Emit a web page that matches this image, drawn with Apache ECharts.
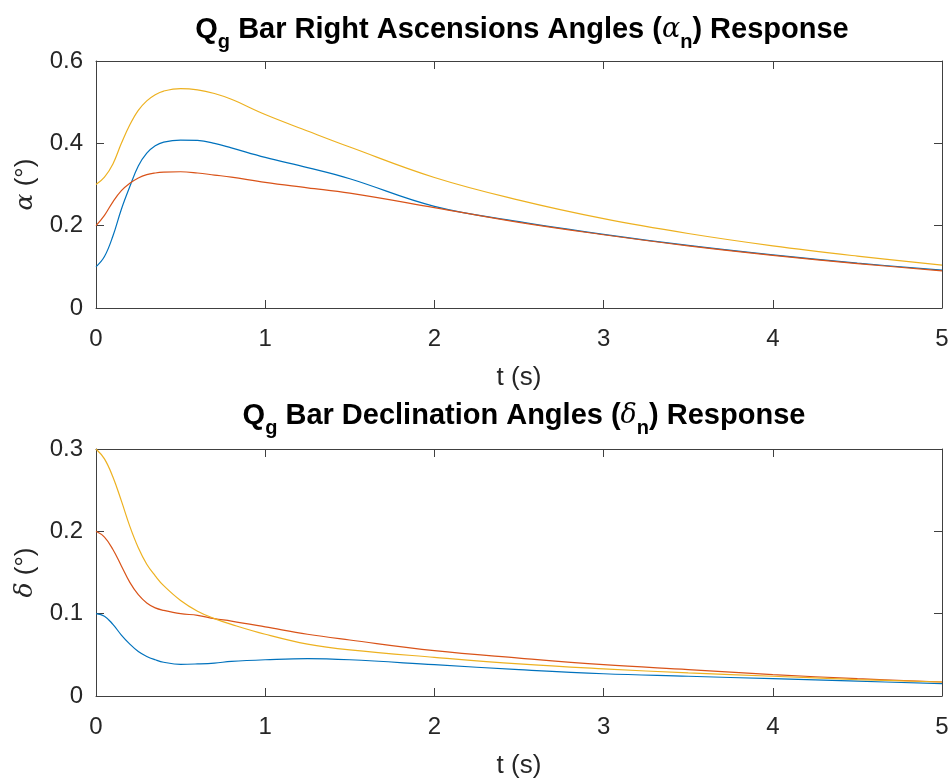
<!DOCTYPE html>
<html>
<head>
<meta charset="utf-8">
<title>Q_g bar response</title>
<script src="https://cdn.jsdelivr.net/npm/echarts@6/dist/echarts.min.js"></script>
<style>
  html, body { margin: 0; padding: 0; background: #fff; }
  #chart { width: 952px; height: 783px; }
</style>
</head>
<body>
<div id="chart"></div>
<script>
// time samples (s)
var tTime = [0, 0.05, 0.1, 0.15, 0.2, 0.25, 0.3, 0.35, 0.4, 0.5, 0.6, 0.7, 0.8, 1.0, 1.25, 1.5, 2, 2.5, 3, 3.5, 4, 4.5, 5];

// right ascension angles alpha (deg)
var alpha1 = [0.100, 0.125, 0.175, 0.240, 0.295, 0.345, 0.376, 0.394, 0.403, 0.408, 0.407, 0.400, 0.389, 0.366, 0.341, 0.314, 0.247, 0.210, 0.179, 0.152, 0.129, 0.109, 0.092];
var alpha2 = [0.200, 0.225, 0.258, 0.285, 0.303, 0.316, 0.324, 0.328, 0.330, 0.331, 0.328, 0.323, 0.318, 0.305, 0.292, 0.279, 0.244, 0.208, 0.178, 0.151, 0.128, 0.108, 0.090];
var alpha3 = [0.300, 0.318, 0.350, 0.400, 0.445, 0.480, 0.503, 0.518, 0.527, 0.533, 0.530, 0.521, 0.507, 0.470, 0.430, 0.391, 0.317, 0.262, 0.217, 0.181, 0.151, 0.126, 0.104];

// declination angles delta (deg)
var delta1 = [0.100, 0.097, 0.087, 0.074, 0.063, 0.054, 0.048, 0.044, 0.041, 0.0385, 0.039, 0.040, 0.042, 0.044, 0.0455, 0.044, 0.038, 0.032, 0.027, 0.024, 0.021, 0.018, 0.015];
var delta2 = [0.200, 0.193, 0.178, 0.158, 0.138, 0.123, 0.113, 0.107, 0.104, 0.100, 0.098, 0.094, 0.091, 0.084, 0.075, 0.068, 0.055, 0.046, 0.038, 0.032, 0.026, 0.021, 0.017];
var delta3 = [0.300, 0.288, 0.266, 0.237, 0.206, 0.180, 0.160, 0.146, 0.134, 0.116, 0.103, 0.094, 0.087, 0.075, 0.063, 0.056, 0.047, 0.039, 0.033, 0.028, 0.024, 0.020, 0.017];

var xTicks = [0, 1, 2, 3, 4, 5];
var alphaTicks = [0, 0.2, 0.4, 0.6];
var deltaTicks = [0, 0.1, 0.2, 0.3];

var colors = ['#0072BD', '#D95319', '#EDB120'];

var chart = echarts.init(document.getElementById('chart'));

function pairs(ys) {
  return tTime.map(function (t, i) { return [t, ys[i]]; });
}

var axisCol = '#404040';
var textCol = '#262626';
var labelFont = 'Liberation Sans';

function xAx(grid, pos, showName) {
  return {
    type: 'value', gridIndex: grid, position: pos,
    min: xTicks[0], max: xTicks[xTicks.length - 1], interval: 1,
    axisLine: { show: true, onZero: false, lineStyle: { color: axisCol, width: 1 } },
    axisTick: { show: true, inside: true, length: 8, lineStyle: { color: axisCol } },
    axisLabel: { show: pos === 'bottom', color: textCol, fontSize: 24, fontFamily: labelFont, margin: 19 },
    splitLine: { show: false },
    name: showName ? 't (s)' : '',
    nameLocation: 'middle', nameGap: 57,
    nameTextStyle: { color: textCol, fontSize: 26, fontFamily: labelFont }
  };
}

function yAx(grid, pos, ticks, sym) {
  return {
    type: 'value', gridIndex: grid, position: pos,
    min: ticks[0], max: ticks[ticks.length - 1], interval: ticks[1] - ticks[0],
    axisLine: { show: true, onZero: false, lineStyle: { color: axisCol, width: 1 } },
    axisTick: { show: true, inside: true, length: 8, lineStyle: { color: axisCol } },
    axisLabel: { show: pos === 'left', color: textCol, fontSize: 24, fontFamily: labelFont, margin: 13 },
    splitLine: { show: false },
    name: pos === 'left' ? '{g|' + sym + '}{r| (°)}' : '',
    nameLocation: 'middle', nameGap: 54, nameRotate: 90,
    nameTextStyle: {
      color: textCol,
      rich: {
        g: { fontFamily: 'DejaVu Serif', fontStyle: 'italic', fontSize: 25, color: textCol },
        r: { fontFamily: labelFont, fontSize: 26, color: textCol }
      }
    }
  };
}

var titleRich = {
  b: { fontFamily: labelFont, fontWeight: 'bold', fontSize: 29, color: '#000' },
  s: { fontFamily: labelFont, fontWeight: 'bold', fontSize: 20, color: '#000', padding: [25, 0, 0, 0] },
  gr: { fontFamily: 'DejaVu Serif', fontStyle: 'italic', fontWeight: 'normal', fontSize: 27, color: '#000' }
};

function line(name, ys, c, xi, yi) {
  return {
    name: name, type: 'line', data: pairs(ys),
    xAxisIndex: xi, yAxisIndex: yi,
    smooth: 0.4, showSymbol: false, symbol: 'none',
    lineStyle: { color: c, width: 1.2 }, itemStyle: { color: c },
    animation: false
  };
}

var option = {
  backgroundColor: '#fff',
  animation: false,
  title: [
    { text: '{b|Q}{s|g}{b| Bar Right Ascensions Angles (}{gr|α}{s|n}{b|) Response}',
      left: 517, textAlign: 'center', top: 2, textStyle: { rich: titleRich } },
    { text: '{b|Q}{s|g}{b| Bar Declination Angles (}{gr|δ}{s|n}{b|) Response}',
      left: 519, textAlign: 'center', top: 388, textStyle: { rich: titleRich } }
  ],
  grid: [
    { left: 96, right: 10, top: 61, height: 247 },
    { left: 96, right: 10, top: 449, height: 247 }
  ],
  xAxis: [xAx(0, 'bottom', true), xAx(0, 'top', false), xAx(1, 'bottom', true), xAx(1, 'top', false)],
  yAxis: [yAx(0, 'left', alphaTicks, 'α'), yAx(0, 'right', alphaTicks, ''),
          yAx(1, 'left', deltaTicks, 'δ'), yAx(1, 'right', deltaTicks, '')],
  series: [
    line('α1', alpha1, colors[0], 0, 0),
    line('α2', alpha2, colors[1], 0, 0),
    line('α3', alpha3, colors[2], 0, 0),
    line('δ1', delta1, colors[0], 2, 2),
    line('δ2', delta2, colors[1], 2, 2),
    line('δ3', delta3, colors[2], 2, 2)
  ]
};

chart.setOption(option);
</script>
</body>
</html>
